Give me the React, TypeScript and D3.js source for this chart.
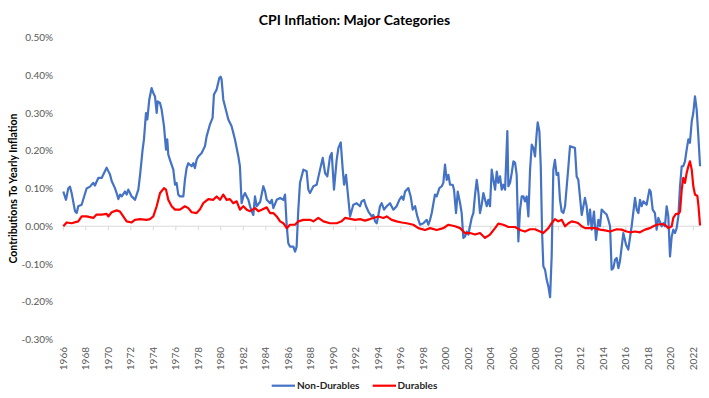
import React from "react";
import * as d3 from "d3";

const yTicks = [-0.3, -0.2, -0.1, 0, 0.1, 0.2, 0.3, 0.4, 0.5];
const xTickYears = d3.range(1966, 2023, 2);

const ndYears = [
  1966.0, 1966.24, 1966.44, 1966.59, 1966.74, 1967.04, 1967.19, 1967.33, 1967.63, 1968.07, 1968.37, 1968.67, 1968.81,
  1969.11, 1969.41, 1969.56, 1969.85, 1970.0, 1970.15, 1970.3, 1970.59, 1970.74, 1970.89, 1971.04, 1971.19, 1971.48,
  1971.63, 1971.78, 1971.93, 1972.07, 1972.22, 1972.37, 1972.67, 1972.81, 1973.05, 1973.17, 1973.35, 1973.47, 1973.64,
  1973.85, 1974.0, 1974.15, 1974.3, 1974.39, 1974.59, 1974.74, 1974.95, 1975.13, 1975.24, 1975.33, 1975.48, 1975.78,
  1975.93, 1976.07, 1976.22, 1976.37, 1976.67, 1976.81, 1976.96, 1977.11, 1977.41, 1977.56, 1977.7, 1977.85, 1978.0,
  1978.3, 1978.44, 1978.59, 1978.74, 1979.04, 1979.27, 1979.39, 1979.63, 1979.87, 1979.99, 1980.07, 1980.22, 1980.37,
  1980.67, 1980.96, 1981.26, 1981.56, 1981.7, 1981.85, 1982.0, 1982.15, 1982.3, 1982.45, 1982.6, 1982.75, 1982.89,
  1983.04, 1983.19, 1983.5, 1983.78, 1983.93, 1984.08, 1984.38, 1984.53, 1984.67, 1984.97, 1985.27, 1985.56, 1985.71,
  1985.86, 1986.0, 1986.15, 1986.45, 1986.6, 1986.74, 1986.89, 1987.04, 1987.34, 1987.63, 1987.78, 1987.93, 1988.23,
  1988.52, 1988.82, 1989.06, 1989.27, 1989.47, 1989.71, 1989.86, 1990.06, 1990.3, 1990.45, 1990.66, 1990.84, 1990.96,
  1991.13, 1991.49, 1991.78, 1992.08, 1992.37, 1992.52, 1992.73, 1992.91, 1993.12, 1993.41, 1993.56, 1993.71, 1993.86,
  1994.01, 1994.15, 1994.3, 1994.51, 1994.75, 1995.04, 1995.34, 1995.63, 1995.87, 1996.08, 1996.23, 1996.38, 1996.67,
  1996.88, 1997.06, 1997.27, 1997.47, 1997.71, 1998.01, 1998.3, 1998.45, 1998.6, 1998.75, 1998.9, 1999.04, 1999.19,
  1999.43, 1999.64, 1999.78, 1999.93, 2000.08, 2000.23, 2000.38, 2000.61, 2000.73, 2000.91, 2001.06, 2001.27, 2001.41,
  2001.56, 2001.71, 2001.86, 2002.01, 2002.15, 2002.3, 2002.45, 2002.6, 2002.75, 2002.9, 2003.04, 2003.19, 2003.34,
  2003.49, 2003.64, 2003.78, 2003.93, 2004.08, 2004.23, 2004.38, 2004.53, 2004.67, 2004.82, 2004.97, 2005.12, 2005.27,
  2005.47, 2005.56, 2005.71, 2005.86, 2006.01, 2006.16, 2006.3, 2006.45, 2006.6, 2006.75, 2006.9, 2007.04, 2007.19,
  2007.34, 2007.49, 2007.64, 2007.79, 2007.93, 2008.08, 2008.17, 2008.32, 2008.44, 2008.56, 2008.67, 2008.82, 2008.97,
  2009.12, 2009.27, 2009.41, 2009.56, 2009.7, 2009.85, 2010.0, 2010.15, 2010.3, 2010.45, 2010.6, 2010.75, 2010.9,
  2011.04, 2011.33, 2011.48, 2011.63, 2011.78, 2012.08, 2012.37, 2012.52, 2012.67, 2012.82, 2012.97, 2013.17, 2013.35,
  2013.56, 2013.71, 2013.85, 2014.15, 2014.3, 2014.45, 2014.6, 2014.74, 2014.89, 2015.04, 2015.19, 2015.34, 2015.48,
  2015.78, 2016.02, 2016.22, 2016.52, 2016.82, 2016.97, 2017.12, 2017.26, 2017.41, 2017.56, 2017.85, 2018.1, 2018.21,
  2018.39, 2018.59, 2018.74, 2018.89, 2019.19, 2019.34, 2019.48, 2019.63, 2019.78, 2019.93, 2020.08, 2020.22, 2020.37,
  2020.52, 2020.67, 2020.82, 2020.97, 2021.11, 2021.26, 2021.41, 2021.56, 2021.7, 2021.86, 2022.0, 2022.15, 2022.3,
  2022.45, 2022.6,
];
const ndValues = [
  0.092, 0.07, 0.1, 0.105, 0.088, 0.04, 0.035, 0.053, 0.057, 0.1, 0.105, 0.115, 0.108,
  0.128, 0.128, 0.137, 0.155, 0.146, 0.137, 0.12, 0.101, 0.088, 0.072, 0.084, 0.079, 0.092,
  0.084, 0.097, 0.088, 0.079, 0.075, 0.07, 0.097, 0.132, 0.203, 0.23, 0.3, 0.283, 0.335,
  0.366, 0.353, 0.344, 0.3, 0.331, 0.327, 0.309, 0.265, 0.203, 0.23, 0.19, 0.176, 0.15,
  0.11, 0.115, 0.084, 0.079, 0.079, 0.123, 0.154, 0.167, 0.159, 0.167, 0.154, 0.176, 0.185,
  0.194, 0.203, 0.212, 0.238, 0.27, 0.287, 0.349, 0.362, 0.393, 0.396, 0.389, 0.336, 0.318,
  0.283, 0.265, 0.23, 0.185, 0.159, 0.061, 0.079, 0.088, 0.079, 0.07, 0.053, 0.039, 0.03,
  0.079, 0.053, 0.065, 0.106, 0.093, 0.07, 0.061, 0.07, 0.048, 0.07, 0.075, 0.07, 0.084,
  0.0, -0.045, -0.054, -0.054, -0.067, -0.054, 0.044, 0.115, 0.15, 0.146, 0.097, 0.088, 0.106,
  0.11, 0.15, 0.181, 0.141, 0.132, 0.185, 0.194, 0.097, 0.176, 0.207, 0.222, 0.15, 0.11,
  0.136, 0.026, 0.057, 0.061, 0.053, 0.066, 0.07, 0.053, 0.039, 0.026, 0.03, 0.013, 0.008,
  0.03, 0.053, 0.061, 0.044, 0.053, 0.061, 0.044, 0.053, 0.07, 0.079, 0.07, 0.092, 0.101,
  0.079, 0.044, 0.053, 0.026, 0.004, 0.008, 0.017, 0.004, 0.017, 0.035, 0.061, 0.084, 0.079,
  0.101, 0.106, 0.115, 0.163, 0.123, 0.136, 0.11, 0.11, 0.097, 0.035, 0.092, 0.061, 0.035,
  -0.031, -0.027, -0.014, -0.022, 0.0, 0.022, 0.035, 0.084, 0.123, 0.088, 0.035, 0.057, 0.088,
  0.07, 0.053, 0.07, 0.053, 0.15, 0.123, 0.097, 0.145, 0.115, 0.132, 0.097, 0.11, 0.097,
  0.252, 0.106, 0.115, 0.141, 0.172, 0.168, 0.137, -0.04, 0.044, 0.079, 0.079, 0.066, 0.079,
  0.026, 0.15, 0.216, 0.207, 0.185, 0.247, 0.275, 0.251, 0.159, -0.018, -0.106, -0.115, -0.142,
  -0.16, -0.188, -0.08, 0.15, 0.176, 0.136, 0.141, 0.07, 0.039, 0.035, 0.053, 0.106, 0.159,
  0.212, 0.209, 0.207, 0.132, 0.123, 0.03, 0.075, 0.053, 0.004, 0.044, -0.009, 0.039, -0.036,
  0.017, 0.0, 0.044, 0.035, 0.031, 0.017, 0.0, -0.115, -0.111, -0.089, -0.084, -0.111, -0.093,
  -0.018, -0.049, -0.062, 0.0, 0.075, 0.044, 0.035, 0.07, 0.053, 0.066, 0.057, 0.097, 0.092,
  0.044, 0.035, -0.009, 0.022, 0.0, 0.008, 0.0, 0.053, 0.026, -0.08, -0.027, -0.009, -0.018,
  -0.005, 0.026, 0.106, 0.159, 0.159, 0.172, 0.203, 0.23, 0.221, 0.278, 0.3, 0.344, 0.309,
  0.238, 0.159,
];

const dYears = [
  1966.0, 1966.3, 1966.74, 1967.33, 1967.63, 1968.07, 1968.67, 1968.96, 1969.41, 1969.85, 1970.0, 1970.3, 1970.74,
  1971.04, 1971.33, 1971.63, 1972.07, 1972.37, 1972.81, 1973.41, 1973.7, 1974.0, 1974.3, 1974.6, 1974.95, 1975.13,
  1975.33, 1975.63, 1975.93, 1976.37, 1976.81, 1977.11, 1977.41, 1977.85, 1978.15, 1978.44, 1978.89, 1979.33, 1979.63,
  1979.93, 1980.22, 1980.52, 1980.81, 1981.11, 1981.41, 1981.7, 1982.0, 1982.3, 1982.6, 1983.04, 1983.34, 1983.63,
  1984.08, 1984.38, 1984.67, 1984.97, 1985.27, 1985.56, 1985.86, 1986.15, 1986.6, 1986.89, 1987.34, 1987.93, 1988.23,
  1988.67, 1989.12, 1989.71, 1990.3, 1990.74, 1991.04, 1991.63, 1991.93, 1992.37, 1992.82, 1993.26, 1993.56, 1994.0,
  1994.45, 1994.75, 1995.19, 1995.63, 1996.08, 1996.52, 1997.11, 1997.56, 1998.15, 1998.6, 1999.19, 1999.78, 2000.23,
  2000.82, 2001.27, 2001.7, 2002.15, 2002.6, 2003.04, 2003.49, 2003.93, 2004.38, 2004.67, 2005.12, 2005.56, 2006.16,
  2006.6, 2007.04, 2007.49, 2007.93, 2008.38, 2008.67, 2009.12, 2009.41, 2009.7, 2010.0, 2010.3, 2010.6, 2010.9,
  2011.2, 2011.63, 2011.78, 2012.08, 2012.37, 2012.82, 2013.26, 2013.7, 2014.15, 2014.6, 2015.19, 2015.63, 2016.07,
  2016.37, 2016.82, 2017.26, 2017.7, 2018.15, 2018.45, 2018.74, 2019.19, 2019.48, 2019.78, 2020.08, 2020.22, 2020.46,
  2020.67, 2020.82, 2020.97, 2021.11, 2021.26, 2021.41, 2021.56, 2021.7, 2021.86, 2022.0, 2022.15, 2022.36, 2022.45,
  2022.6,
];
const dValues = [
  0.0, 0.01, 0.008, 0.013, 0.026, 0.026, 0.022, 0.031, 0.031, 0.033, 0.026, 0.037, 0.042,
  0.039, 0.026, 0.013, 0.01, 0.017, 0.019, 0.017, 0.019, 0.026, 0.053, 0.088, 0.101, 0.097,
  0.07, 0.053, 0.044, 0.044, 0.053, 0.048, 0.037, 0.035, 0.045, 0.061, 0.072, 0.07, 0.079,
  0.07, 0.084, 0.07, 0.072, 0.061, 0.066, 0.044, 0.053, 0.044, 0.04, 0.048, 0.04, 0.044,
  0.05, 0.035, 0.035, 0.026, 0.013, 0.008, -0.005, 0.004, 0.004, 0.013, 0.017, 0.017, 0.013,
  0.022, 0.013, 0.008, 0.008, 0.013, 0.022, 0.019, 0.017, 0.019, 0.015, 0.019, 0.022, 0.026,
  0.022, 0.026, 0.017, 0.013, 0.01, 0.008, 0.004, -0.005, -0.01, -0.005, -0.01, -0.005, 0.004,
  0.0, -0.005, -0.018, -0.018, -0.022, -0.018, -0.031, -0.022, -0.005, 0.007, 0.004, -0.002, -0.002,
  -0.01, -0.014, -0.008, -0.008, -0.014, -0.018, -0.005, 0.008, 0.019, 0.013, 0.017, 0.0, 0.008,
  0.013, 0.01, 0.008, 0.0, -0.005, -0.005, -0.005, -0.009, -0.011, -0.014, -0.008, -0.009, -0.014,
  -0.016, -0.014, -0.016, -0.009, -0.005, 0.0, 0.004, 0.006, 0.004, -0.005, 0.0, 0.022, 0.033,
  0.033, 0.039, 0.097, 0.128, 0.115, 0.141, 0.159, 0.172, 0.15, 0.106, 0.084, 0.08, 0.057,
  0.002,
];

const W = 709;
const H = 398;
const FONT = "Lato, 'Open Sans', sans-serif";
const BLUE = "#4472C4";
const RED = "#FF0000";

export default function App() {
  const x = d3.scaleLinear().domain([1966, 2022]).range([63.3, 693.3]);
  const y = d3.scaleLinear().domain([-0.3, 0.5]).range([339.5, 37.5]);

  const line = d3
    .line<[number, number]>()
    .x((d) => x(d[0]))
    .y((d) => y(d[1]));

  const ndData: [number, number][] = ndYears.map((yr, i) => [yr, ndValues[i]]);
  const dData: [number, number][] = dYears.map((yr, i) => [yr, dValues[i]]);

  const zeroY = y(0);

  return (
    <svg
      width={W}
      height={H}
      style={{ position: "absolute", left: 0, top: 0, background: "#fff" }}
      fontFamily={FONT}
    >
      <rect x={0} y={0} width={W} height={H} fill="#fff" />
      <text x={354.5} y={25} textAnchor="middle" fontSize={14} fontWeight="bold" fill="#000">
        CPI Inflation: Major Categories
      </text>

      {yTicks.map((t) => (
        <text
          key={t}
          x={53}
          y={y(t)}
          dy="0.35em"
          textAnchor="end"
          fontSize={10}
          fill="#595959"
        >
          {t.toFixed(2) + "%"}
        </text>
      ))}

      <text
        transform={`translate(17,188.5) rotate(-90)`}
        textAnchor="middle"
        fontSize={10.5}
        fontWeight="bold"
        fill="#000"
      >
        Contributions To Yearly Inflation
      </text>

      <line x1={x(1966)} x2={700} y1={zeroY} y2={zeroY} stroke="#D9D9D9" strokeWidth={1} />
      {xTickYears.map((yr) => (
        <line key={"t" + yr} x1={x(yr)} x2={x(yr)} y1={zeroY} y2={zeroY + 4} stroke="#D9D9D9" strokeWidth={1} />
      ))}

      {xTickYears.map((yr) => (
        <text
          key={"l" + yr}
          transform={`translate(${x(yr)},347) rotate(-90)`}
          dy="0.35em"
          textAnchor="end"
          fontSize={10}
          fill="#595959"
        >
          {yr}
        </text>
      ))}

      <path d={line(ndData) || ""} fill="none" stroke={BLUE} strokeWidth={2.2} strokeLinejoin="round" />
      <path d={line(dData) || ""} fill="none" stroke={RED} strokeWidth={2.2} strokeLinejoin="round" />

      <line x1={271.7} x2={295} y1={385.7} y2={385.7} stroke={BLUE} strokeWidth={2.2} />
      <text x={297} y={385.7} dy="0.35em" fontSize={10} fontWeight="bold" fill="#262626">
        Non-Durables
      </text>
      <line x1={372.7} x2={396} y1={385.7} y2={385.7} stroke={RED} strokeWidth={2.2} />
      <text x={397.5} y={385.7} dy="0.35em" fontSize={10} fontWeight="bold" fill="#262626">
        Durables
      </text>
    </svg>
  );
}
